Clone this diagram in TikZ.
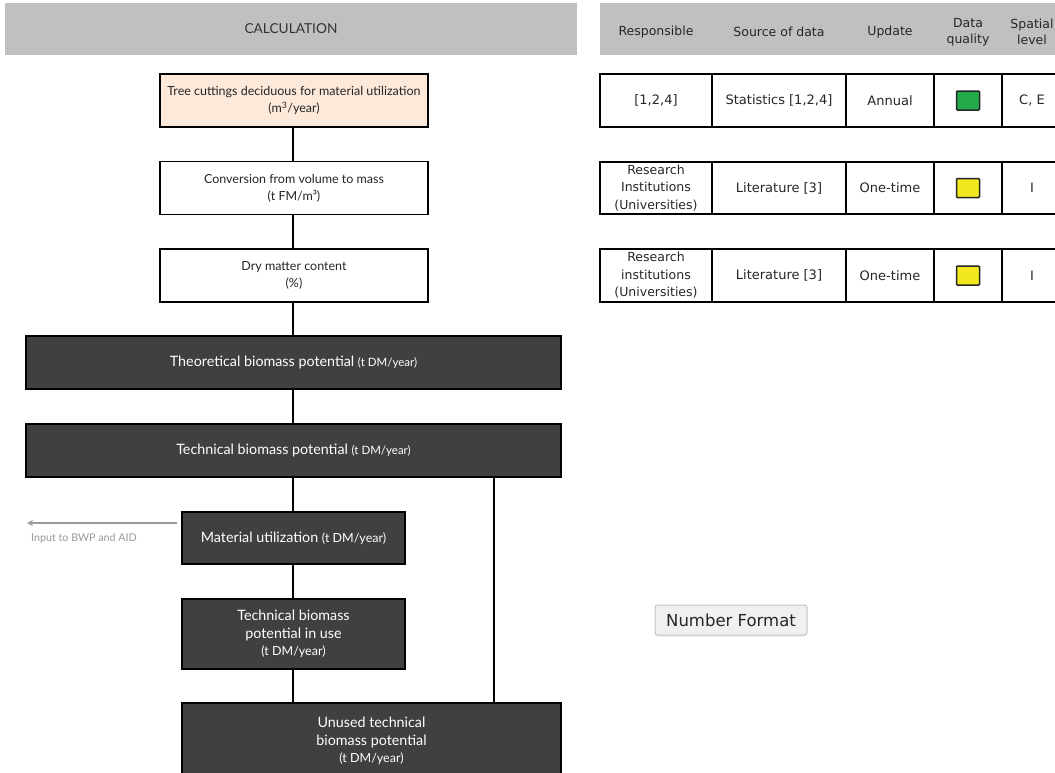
\documentclass[tikz,border=0pt]{standalone}
\usepackage{fontspec}
\usetikzlibrary{arrows.meta,shadows}
\newfontfamily\flowfont{Lato}
\newfontfamily\uifont{DejaVu Sans}
\newcommand\unitfont{\flowfont\fontsize{11.5}{17}\selectfont}
\newcommand\smallunit{\flowfont\fontsize{12.5}{17.5}\selectfont}
\definecolor{hdrgray}{HTML}{C0C0C0}
\definecolor{boxdark}{HTML}{404040}
\definecolor{peach}{HTML}{FDE9D9}
\definecolor{qgreen}{HTML}{22AA4A}
\definecolor{qyellow}{HTML}{F2E81E}
\definecolor{inkgray}{HTML}{9A9A9A}
\definecolor{cellink}{HTML}{262626}
\definecolor{btnfill}{HTML}{F0F0F0}
\definecolor{btnedge}{HTML}{C4C4C4}

\tikzset{
  x=1pt, y=-1pt,
  header/.style={fill=hdrgray, draw=none, inner sep=0pt, align=center,
    font=\flowfont\fontsize{13.7}{15}\selectfont, text=black!80},
  colhead/.style={inner sep=0pt, align=center,
    font=\uifont\fontsize{12.5}{16}\selectfont, text=cellink},
  lightbox/.style={draw=black, line width=1.8pt, fill=white, inner sep=0pt,
    minimum width=268pt, minimum height=53pt, align=center,
    font=\flowfont\fontsize{12.5}{17}\selectfont, text=black!85},
  darkbox/.style={draw=black, line width=1.8pt, fill=boxdark, inner sep=0pt,
    minimum height=53pt, align=center,
    font=\flowfont\fontsize{14.3}{17.5}\selectfont, text=white},
  link/.style={draw=black, line width=1.8pt},
  cell/.style={draw=black, line width=1.8pt, inner sep=0pt, align=center,
    font=\uifont\fontsize{13}{17.5}\selectfont, text=cellink},
  quality/.style={draw=black!85, line width=1.5pt, rounded corners=1pt,
    minimum width=23pt, minimum height=19pt, inner sep=0pt},
}

\begin{document}
\begin{tikzpicture}
\path[use as bounding box, clip] (0,0) rectangle (1055,772);
\fill[white] (0,0) rectangle (1055,772);

% ---------- left column: calculation chain ----------
\node[header, minimum width=572pt, minimum height=52pt] (calc) at (291,29) {CALCULATION};

\node[lightbox, fill=peach] (tree) at (294,100.5)
  {Tree cuttings deciduous for material utilization\\(m\textsuperscript{3}/year)};
\node[lightbox] (conv) at (294,188)
  {Conversion from volume to mass\\(t FM/m³)};
\node[lightbox] (dry) at (294,275.5)
  {Dry matter content\\(\%)};

\node[darkbox, minimum width=535pt] (theo) at (293.5,362.5)
  {Theoretical biomass potential {\unitfont(t DM/year)}};
\node[darkbox, minimum width=535pt] (tech) at (293.5,450.5)
  {Technical biomass potential {\unitfont(t DM/year)}};

\node[darkbox, minimum width=223pt, minimum height=52pt] (mat) at (293.5,538)
  {Material utilization {\smallunit(t DM/year)}};
\node[darkbox, minimum width=223pt, minimum height=70pt] (inuse) at (293.5,634)
  {Technical biomass\\potential in use\\{\smallunit(t DM/year)}};
\node[darkbox, minimum width=379pt, minimum height=76pt] (unused) at (371.5,741)
  {Unused technical\\biomass potential\\{\smallunit(t DM/year)}};

% vertical connections
\coordinate (spine) at (293,0);
\coordinate (branch) at (494,0);
\path[link] (tree.south -| spine) -- (conv.north -| spine);
\path[link] (conv.south -| spine) -- (dry.north -| spine);
\path[link] (dry.south -| spine) -- (theo.north -| spine);
\path[link] (theo.south -| spine) -- (tech.north -| spine);
\path[link] (tech.south -| spine) -- (mat.north -| spine);
\path[link] (mat.south -| spine) -- (inuse.north -| spine);
\path[link] (inuse.south -| spine) -- (unused.north -| spine);
\path[link] (tech.south -| branch) -- (unused.north -| branch);

% output to other modules
\coordinate (outstart) at (177,523);
\coordinate (outend) at (27,523);
\draw[inkgray, line width=1.8pt, -{Stealth[length=6pt,width=6pt]}] (outstart) -- (outend);
\node[anchor=west, inner sep=0pt, text=inkgray,
      font=\flowfont\fontsize{10.7}{12}\selectfont] (outlabel) at (31,538) {Input to BWP and AID};

% ---------- right column: data table ----------
\node[header, minimum width=462pt, minimum height=52pt] (meta) at (831,29) {};
\node[colhead] (h1) at (656,32) {Responsible};
\node[colhead] (h2) at (779,32) {Source of data};
\node[colhead] (h3) at (890,32) {Update};
\node[colhead] (h4) at (968,32) {Data\\quality};
\node[colhead] (h5) at (1032,32) {Spatial\\level};

% row 1
\node[cell, minimum width=112pt, minimum height=53pt] (a1) at (656,100.5) {[1,2,4]};
\node[cell, minimum width=134pt, minimum height=53pt] (a2) at (779,100.5) {Statistics [1,2,4]};
\node[cell, minimum width=88pt,  minimum height=53pt] (a3) at (890,100.5) {Annual};
\node[cell, minimum width=68pt,  minimum height=53pt] (a4) at (968,100.5) {};
\node[cell, minimum width=60pt,  minimum height=53pt] (a5) at (1032,100.5) {C, E};
\node[quality, fill=qgreen] (q1) at (a4) {};

% row 2
\node[cell, minimum width=112pt, minimum height=52pt,
      font=\uifont\fontsize{12.5}{17.5}\selectfont] (b1) at (656,188)
  {Research\\Institutions\\(Universities)};
\node[cell, minimum width=134pt, minimum height=52pt] (b2) at (779,188) {Literature [3]};
\node[cell, minimum width=88pt,  minimum height=52pt] (b3) at (890,188) {One-time};
\node[cell, minimum width=68pt,  minimum height=52pt] (b4) at (968,188) {};
\node[cell, minimum width=60pt,  minimum height=52pt] (b5) at (1032,188) {I};
\node[quality, fill=qyellow] (q2) at (b4) {};

% row 3
\node[cell, minimum width=112pt, minimum height=53pt,
      font=\uifont\fontsize{12.5}{17.5}\selectfont] (c1) at (656,275.5)
  {Research\\institutions\\(Universities)};
\node[cell, minimum width=134pt, minimum height=53pt] (c2) at (779,275.5) {Literature [3]};
\node[cell, minimum width=88pt,  minimum height=53pt] (c3) at (890,275.5) {One-time};
\node[cell, minimum width=68pt,  minimum height=53pt] (c4) at (968,275.5) {};
\node[cell, minimum width=60pt,  minimum height=53pt] (c5) at (1032,275.5) {I};
\node[quality, fill=qyellow] (q3) at (c4) {};

% number format button
\node[draw=btnedge, fill=btnfill, line width=1pt, rounded corners=2.5pt,
      minimum width=152pt, minimum height=30pt, inner sep=0pt,
      drop shadow={opacity=0.18, shadow xshift=0pt, shadow yshift=-1.5pt},
      font=\uifont\fontsize{16.5}{18}\selectfont, text=cellink] (numfmt) at (731,620)
  {Number Format};
\end{tikzpicture}
\end{document}
